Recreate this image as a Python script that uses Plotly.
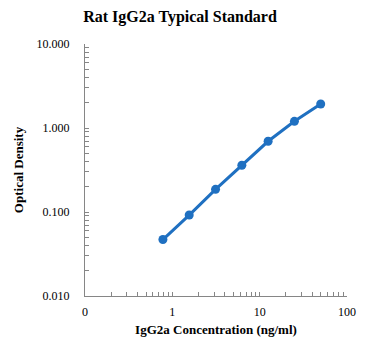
import plotly.graph_objects as go

# Data
concentration = [0.78, 1.56, 3.125, 6.25, 12.5, 25, 50]
optical_density = [0.047, 0.092, 0.186, 0.36, 0.695, 1.20, 1.93]

y_tick_vals = [0.01, 0.1, 1, 10]
y_tick_text = ["0.010", "0.100", "1.000", "10.000"]
x_tick_vals = [0.1, 1, 10, 100]
x_tick_text = ["0", "1", "10", "100"]

BLUE = "#1F70C1"
AXIS = "#868686"
FONT = "Liberation Serif"


def all_ticks(vals_in, text_in):
    vals, text = [], []
    for d, lab in zip(vals_in[:-1], text_in[:-1]):
        for m in range(1, 10):
            vals.append(d * m)
            text.append(lab if m == 1 else "")
    vals.append(vals_in[-1])
    text.append(text_in[-1])
    return vals, text


xv, xt = all_ticks(x_tick_vals, x_tick_text)
yv, yt = all_ticks(y_tick_vals, y_tick_text)

fig = go.Figure()
fig.add_trace(go.Scatter(x=concentration, y=optical_density, mode="lines+markers",
                         line=dict(color=BLUE, width=3),
                         marker=dict(color=BLUE, size=9)))

fig.update_layout(
    width=371, height=353,
    margin=dict(l=85, r=24, t=44, b=57),
    paper_bgcolor="white", plot_bgcolor="white",
    showlegend=False,
    font=dict(family=FONT, size=12, color="black"),
    title=dict(text="<b>Rat IgG2a Typical Standard</b>",
               font=dict(family=FONT, size=16, color="black"),
               xref="container", yref="container",
               x=180 / 371, xanchor="center",
               y=1 - 16 / 353, yanchor="middle"),
)
fig.update_xaxes(
    type="log", range=[-1, 2],
    tickmode="array", tickvals=xv, ticktext=xt,
    ticks="inside", ticklen=4, tickcolor=AXIS, tickwidth=1,
    showline=True, linecolor=AXIS, linewidth=1,
    showgrid=False, zeroline=False,
    ticklabelstandoff=5,
    tickfont=dict(family=FONT, size=12, color="black"),
    title=dict(text="<b>IgG2a Concentration (ng/ml)</b>",
               font=dict(family=FONT, size=13, color="black"), standoff=6),
)
fig.update_yaxes(
    type="log", range=[-2, 1],
    tickmode="array", tickvals=yv, ticktext=yt,
    ticks="inside", ticklen=4, tickcolor=AXIS, tickwidth=1,
    showline=True, linecolor=AXIS, linewidth=1,
    showgrid=False, zeroline=False,
    ticklabelstandoff=12,
    tickfont=dict(family=FONT, size=12, color="black"),
    title=dict(text="<b>Optical Density</b>",
               font=dict(family=FONT, size=13, color="black"), standoff=10),
)

fig.write_html("out.html")
